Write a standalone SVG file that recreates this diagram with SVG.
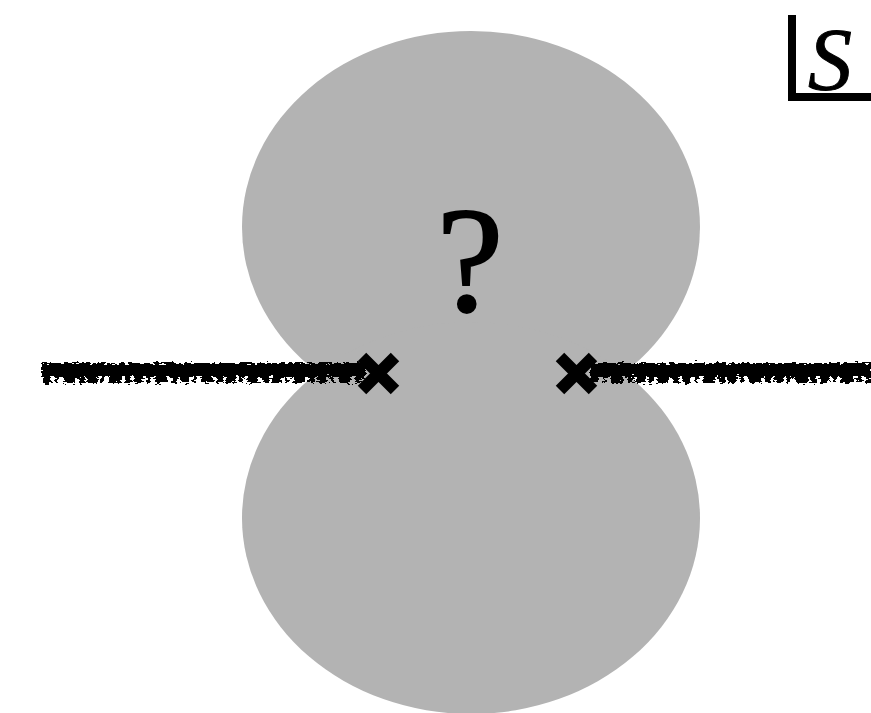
<svg xmlns="http://www.w3.org/2000/svg" width="871" height="713" viewBox="0 0 871 713">
  <defs>
    <style>
      .blob { fill: #b3b3b3; }
      .cross { stroke: #000; stroke-width: 12; stroke-linecap: butt; fill: none; }
      .rough { stroke: #000; fill: none; }
    </style>
    <filter id="rough" x="-5%" y="-200%" width="110%" height="500%">
      <feTurbulence type="fractalNoise" baseFrequency="0.2 0.5" numOctaves="2" seed="3" result="n"/>
      <feDisplacementMap in="SourceGraphic" in2="n" scale="8" xChannelSelector="R" yChannelSelector="G"/>
    </filter>
  </defs>
  <rect width="871" height="713" fill="#fff"/>
  <g id="region">
    <ellipse class="blob" cx="471" cy="227" rx="229" ry="196"/>
    <ellipse class="blob" cx="471" cy="518" rx="229" ry="196"/>
  </g>
  <g id="question">
    <text x="470" y="311" font-family="'Liberation Serif', 'Times New Roman', serif" font-size="150" text-anchor="middle" fill="#000" stroke="#000" stroke-width="2">?</text>
  </g>
  <g id="connectors">
    <g filter="url(#rough)">
      <line class="rough" x1="42" y1="370" x2="366" y2="370" stroke-width="14"/>
      <line class="rough" x1="42" y1="380" x2="362" y2="380" stroke-width="6" stroke-dasharray="9 4 3 5 12 4 6 3"/>
      <line class="rough" x1="590" y1="370" x2="871" y2="370" stroke-width="14"/>
      <line class="rough" x1="590" y1="380" x2="871" y2="380" stroke-width="6" stroke-dasharray="9 4 3 5 12 4 6 3"/>
    </g>
  </g>
  <g id="cross-left">
    <path class="cross" d="M362 357 L395 390 M395 357 L362 390"/>
  </g>
  <g id="cross-right">
    <path class="cross" d="M560 357 L593 390 M593 357 L560 390"/>
  </g>
  <g id="label-s">
    <path d="M792 15 V97 H871" fill="none" stroke="#000" stroke-width="8"/>
    <text x="808" y="89" font-family="'Liberation Serif', 'Times New Roman', serif" font-size="88" font-style="italic" fill="#000" stroke="#000" stroke-width="1">S</text>
  </g>
</svg>
